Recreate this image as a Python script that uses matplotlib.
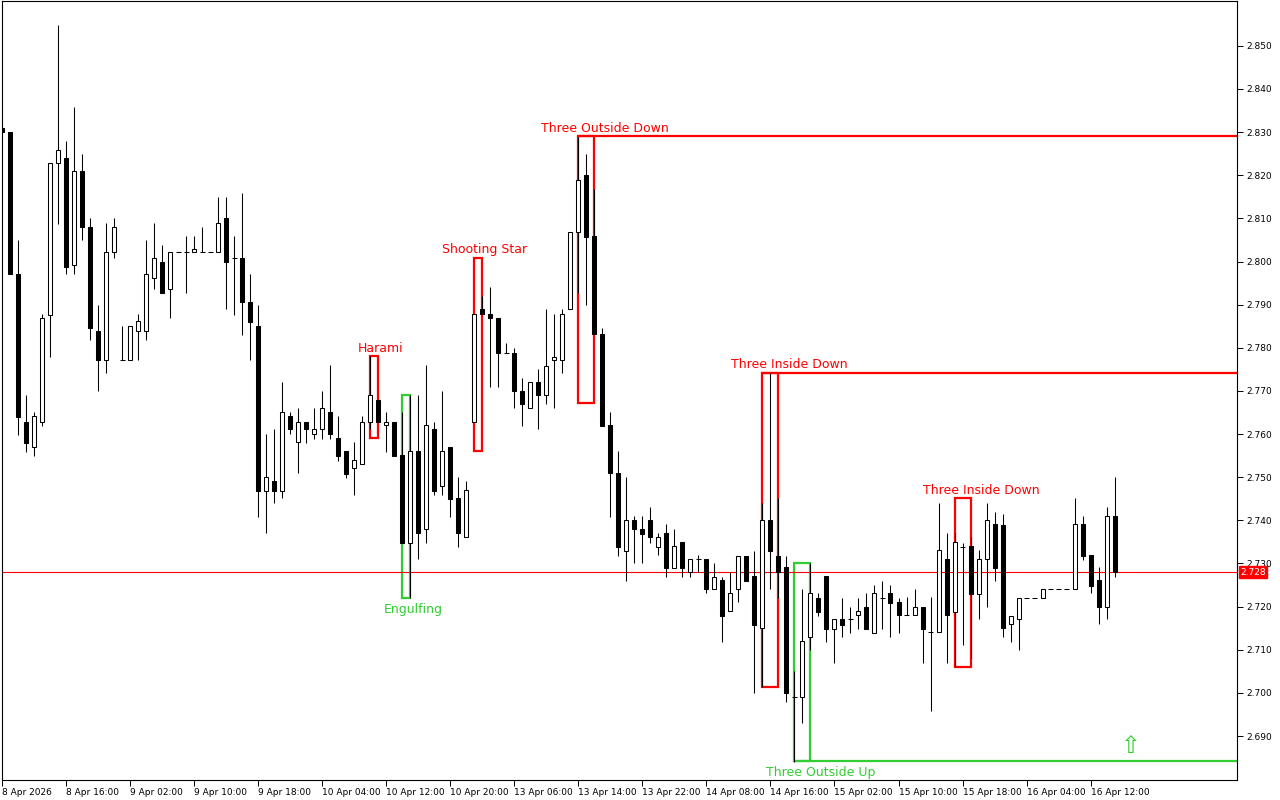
import numpy as np
import matplotlib
matplotlib.use('Agg')
import matplotlib.pyplot as plt
from matplotlib.patches import Rectangle
from matplotlib.transforms import blended_transform_factory

# hourly candles (OHLC)
opens = [2.8310, 2.8300, 2.7970, 2.7629, 2.7569, 2.7627, 2.7877, 2.8229, 2.8241, 2.7991,
         2.8211, 2.8081, 2.7840, 2.7771, 2.8021, 2.7771, 2.7771, 2.7840, 2.7840, 2.7961,
         2.8000, 2.7937, 2.8021, 2.8021, 2.8021, 2.8021, 2.8021, 2.8021, 2.8100, 2.8009,
         2.8009, 2.7907, 2.7850, 2.7468, 2.7491, 2.7468, 2.7641, 2.7581, 2.7629, 2.7600,
         2.7611, 2.7650, 2.7590, 2.7560, 2.7521, 2.7530, 2.7629, 2.7680, 2.7620, 2.7629,
         2.7551, 2.7347, 2.7560, 2.7380, 2.7611, 2.7479, 2.7569, 2.7451, 2.7361, 2.7627,
         2.7891, 2.7879, 2.7870, 2.7789, 2.7789, 2.7700, 2.7660, 2.7720, 2.7690, 2.7771,
         2.7771, 2.7891, 2.8069, 2.8200, 2.8060, 2.7831, 2.7620, 2.7509, 2.7329, 2.7400,
         2.7380, 2.7400, 2.7338, 2.7370, 2.7289, 2.7349, 2.7280, 2.7310, 2.7310, 2.7241,
         2.7261, 2.7190, 2.7241, 2.7317, 2.7271, 2.7150, 2.7400, 2.7317, 2.7291, 2.6990,
         2.6990, 2.7129, 2.7220, 2.7271, 2.7148, 2.7171, 2.7171, 2.7180, 2.7200, 2.7139,
         2.7220, 2.7231, 2.7210, 2.7180, 2.7180, 2.7200, 2.7141, 2.7141, 2.7310, 2.7187,
         2.7338, 2.7340, 2.7229, 2.7310, 2.7391, 2.7390, 2.7160, 2.7171, 2.7220, 2.7220,
         2.7220, 2.7241, 2.7241, 2.7241, 2.7241, 2.7391, 2.7319, 2.7261, 2.7198, 2.7410]
highs = [2.8315, 2.8300, 2.8050, 2.7690, 2.7650, 2.7879, 2.8229, 2.8549, 2.8280, 2.8359,
         2.8250, 2.8100, 2.7900, 2.8090, 2.8100, 2.7850, 2.7850, 2.7879, 2.8051, 2.8090,
         2.8039, 2.8021, 2.8021, 2.8060, 2.8060, 2.8081, 2.8021, 2.8150, 2.8150, 2.8060,
         2.8160, 2.7970, 2.7900, 2.7600, 2.7611, 2.7720, 2.7650, 2.7660, 2.7629, 2.7660,
         2.7700, 2.7759, 2.7641, 2.7560, 2.7581, 2.7641, 2.7780, 2.7680, 2.7650, 2.7629,
         2.7650, 2.7690, 2.7690, 2.7759, 2.7629, 2.7700, 2.7569, 2.7500, 2.7491, 2.7879,
         2.7919, 2.7940, 2.7870, 2.7810, 2.7800, 2.7729, 2.7720, 2.7752, 2.7891, 2.7879,
         2.7891, 2.8069, 2.8289, 2.8250, 2.8169, 2.7847, 2.7650, 2.7560, 2.7500, 2.7410,
         2.7410, 2.7430, 2.7370, 2.7391, 2.7380, 2.7349, 2.7310, 2.7319, 2.7310, 2.7300,
         2.7268, 2.7280, 2.7317, 2.7317, 2.7330, 2.7440, 2.7741, 2.7451, 2.7317, 2.7051,
         2.7241, 2.7300, 2.7231, 2.7271, 2.7171, 2.7220, 2.7200, 2.7220, 2.7231, 2.7250,
         2.7259, 2.7250, 2.7220, 2.7222, 2.7241, 2.7200, 2.7222, 2.7440, 2.7370, 2.7370,
         2.7347, 2.7361, 2.7331, 2.7440, 2.7419, 2.7415, 2.7178, 2.7220, 2.7220, 2.7220,
         2.7241, 2.7241, 2.7241, 2.7241, 2.7451, 2.7410, 2.7319, 2.7292, 2.7430, 2.7500]
lows = [2.8295, 2.7970, 2.7597, 2.7558, 2.7548, 2.7618, 2.7778, 2.8088, 2.7970, 2.7970,
        2.8051, 2.7819, 2.7699, 2.7741, 2.8009, 2.7771, 2.7771, 2.7771, 2.7819, 2.7937,
        2.7928, 2.7870, 2.8021, 2.7928, 2.8021, 2.8021, 2.8021, 2.8021, 2.7889, 2.7877,
        2.7829, 2.7771, 2.7407, 2.7370, 2.7440, 2.7451, 2.7600, 2.7509, 2.7579, 2.7588,
        2.7588, 2.7588, 2.7537, 2.7497, 2.7458, 2.7530, 2.7611, 2.7627, 2.7558, 2.7548,
        2.7347, 2.7220, 2.7310, 2.7347, 2.7458, 2.7458, 2.7407, 2.7338, 2.7361, 2.7627,
        2.7879, 2.7708, 2.7708, 2.7789, 2.7660, 2.7618, 2.7660, 2.7611, 2.7669, 2.7660,
        2.7741, 2.7891, 2.7928, 2.7900, 2.7831, 2.7618, 2.7407, 2.7317, 2.7259, 2.7300,
        2.7300, 2.7347, 2.7319, 2.7268, 2.7289, 2.7268, 2.7268, 2.7280, 2.7231, 2.7241,
        2.7118, 2.7190, 2.7210, 2.7259, 2.7000, 2.7014, 2.7241, 2.7220, 2.6979, 2.6840,
        2.6930, 2.7100, 2.7178, 2.7118, 2.7069, 2.7129, 2.7139, 2.7148, 2.7148, 2.7139,
        2.7148, 2.7129, 2.7139, 2.7180, 2.7180, 2.7069, 2.6958, 2.7141, 2.7069, 2.7060,
        2.7111, 2.7081, 2.7171, 2.7198, 2.7259, 2.7130, 2.7118, 2.7100, 2.7220, 2.7220,
        2.7220, 2.7241, 2.7241, 2.7241, 2.7241, 2.7308, 2.7231, 2.7159, 2.7171, 2.7268]
closes = [2.8300, 2.7970, 2.7640, 2.7579, 2.7641, 2.7870, 2.8229, 2.8259, 2.7988, 2.8211,
          2.8081, 2.7847, 2.7771, 2.8021, 2.8081, 2.7771, 2.7850, 2.7861, 2.7970, 2.8009,
          2.7928, 2.8021, 2.8021, 2.8021, 2.8030, 2.8021, 2.8021, 2.8090, 2.8000, 2.8009,
          2.7907, 2.7859, 2.7468, 2.7500, 2.7468, 2.7650, 2.7611, 2.7629, 2.7611, 2.7611,
          2.7660, 2.7600, 2.7548, 2.7507, 2.7539, 2.7629, 2.7690, 2.7627, 2.7627, 2.7548,
          2.7347, 2.7560, 2.7370, 2.7620, 2.7468, 2.7560, 2.7449, 2.7370, 2.7470, 2.7879,
          2.7879, 2.7868, 2.7787, 2.7789, 2.7699, 2.7669, 2.7720, 2.7690, 2.7757, 2.7778,
          2.7879, 2.8069, 2.8190, 2.8058, 2.7831, 2.7618, 2.7509, 2.7338, 2.7400, 2.7380,
          2.7368, 2.7361, 2.7361, 2.7289, 2.7340, 2.7289, 2.7310, 2.7310, 2.7241, 2.7268,
          2.7178, 2.7231, 2.7317, 2.7259, 2.7157, 2.7400, 2.7329, 2.7280, 2.7000, 2.6990,
          2.7120, 2.7231, 2.7187, 2.7148, 2.7171, 2.7157, 2.7171, 2.7190, 2.7148, 2.7231,
          2.7220, 2.7208, 2.7180, 2.7180, 2.7200, 2.7148, 2.7141, 2.7331, 2.7180, 2.7349,
          2.7338, 2.7229, 2.7310, 2.7400, 2.7289, 2.7150, 2.7178, 2.7220, 2.7220, 2.7220,
          2.7241, 2.7241, 2.7241, 2.7241, 2.7391, 2.7317, 2.7248, 2.7198, 2.7410, 2.7280]

time_labels = ["8 Apr 2026", "8 Apr 16:00", "9 Apr 02:00", "9 Apr 10:00", "9 Apr 18:00",
               "10 Apr 04:00", "10 Apr 12:00", "10 Apr 20:00", "13 Apr 06:00", "13 Apr 14:00",
               "13 Apr 22:00", "14 Apr 08:00", "14 Apr 16:00", "15 Apr 02:00", "15 Apr 10:00",
               "15 Apr 18:00", "16 Apr 04:00", "16 Apr 12:00"]

# detected patterns
pat_names = ["Harami", "Engulfing", "Shooting Star", "Three Outside Down",
             "Three Inside Down", "Three Outside Up", "Three Inside Down"]
pat_start = [46, 50, 59, 72, 95, 99, 119]
pat_end = [47, 51, 60, 74, 97, 101, 121]
pat_top = [2.7780, 2.7690, 2.8009, 2.8290, 2.7741, 2.7302, 2.7451]
pat_bottom = [2.7590, 2.7220, 2.7560, 2.7671, 2.7014, 2.6842, 2.7060]
pat_bull = [False, True, False, False, False, True, False]
pat_level = [False, False, False, True, True, True, False]

current_price = 2.728
signal_idx = 141
signal_price = 2.6876

RED = '#ff0000'
GREEN = '#32cd32'

fig = plt.figure(figsize=(12.8, 8), dpi=100)
ax = fig.add_axes([2 / 1280, 20 / 800, 1235 / 1280, 779 / 800])
ax.set_facecolor('white')

n = len(opens)
x_right = 154.3
ax.set_xlim(-0.03, x_right)
ax.set_ylim(2.6798, 2.8604)

# pattern boxes and levels
for i in range(len(pat_names)):
    col = GREEN if pat_bull[i] else RED
    s, e = pat_start[i], pat_end[i]
    ax.add_patch(Rectangle((s, pat_bottom[i]), e - s, pat_top[i] - pat_bottom[i],
                           fill=False, edgecolor=col, linewidth=1.6, zorder=1))
    if pat_level[i]:
        lvl = pat_bottom[i] if pat_bull[i] else pat_top[i]
        ax.hlines(lvl, s, x_right, colors=col, linewidth=1.6, zorder=1)
    xc = e + 0.3 + (e - s - 1)
    if pat_bull[i]:
        ax.annotate(pat_names[i], (xc, pat_bottom[i]), xytext=(0, -8), textcoords='offset points',
                    ha='center', va='center', color=col, fontsize=9, zorder=5)
    else:
        ax.annotate(pat_names[i], (xc, pat_top[i]), xytext=(0, 6), textcoords='offset points',
                    ha='center', va='center', color=col, fontsize=9, zorder=5)

# current price line
ax.axhline(current_price, color=RED, linewidth=0.8, zorder=2)

# candles
bw = 0.5
for i in range(n):
    o, h, l, c = opens[i], highs[i], lows[i], closes[i]
    ax.vlines(i, l, h, colors='black', linewidth=0.75, zorder=3)
    if abs(c - o) < 1e-6:
        ax.hlines(o, i - bw / 2 - 0.06, i + bw / 2 + 0.06, colors='black', linewidth=0.75, zorder=4)
    else:
        face = 'white' if c > o else 'black'
        ax.add_patch(Rectangle((i - bw / 2, min(o, c)), bw, abs(c - o),
                               facecolor=face, edgecolor='black', linewidth=0.75, zorder=4))

# signal arrow
ax.text(signal_idx, signal_price, '\u21e7', color=GREEN, fontsize=17,
        ha='center', va='center', family='DejaVu Sans', zorder=5)

# axes styling
for sp in ax.spines.values():
    sp.set_color('black')
    sp.set_linewidth(0.8)

yt = np.round(np.arange(2.69, 2.8501, 0.01), 3)
ax.yaxis.tick_right()
ax.set_yticks(yt)
ax.set_yticklabels([f'{v:.3f}' for v in yt])
ax.tick_params(axis='y', direction='out', length=4, width=0.7, pad=3, labelsize=6.5, colors='black')

xt = np.arange(0, 8 * len(time_labels), 8)
ax.set_xticks(xt)
ax.set_xticklabels(time_labels)
ax.tick_params(axis='x', direction='out', length=4, width=0.7, pad=2, labelsize=6.5)
for lbl in ax.get_xticklabels():
    lbl.set_ha('left')

# current price tag on the price scale
trans = blended_transform_factory(ax.transAxes, ax.transData)
ax.text(1.0025, current_price, f'{current_price:.3f}', transform=trans, fontsize=6.5,
        color='white', ha='left', va='center', zorder=6,
        bbox=dict(boxstyle='square,pad=0.15', facecolor=RED, edgecolor=RED))

fig.savefig('out.png', dpi=100, facecolor='white')
